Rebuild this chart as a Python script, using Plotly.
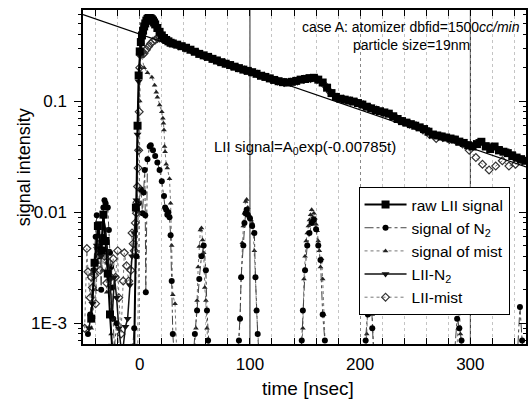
import plotly.graph_objects as go

# ---------------- data ----------------
raw_t = [-44, -41, -38, -35, -33, -31, -29, -27, -25, -20, -10, -5, -3.5, -2, -1,
         0, 1, 2, 3, 4, 5, 6, 7, 8, 9, 10, 11, 12, 13, 14, 16, 18, 20, 22, 24, 26, 28, 30,
         34, 38, 42, 46, 50, 54, 58, 62, 66, 70,
         74, 78, 82, 86, 90, 94, 98, 102, 106, 110,
         114, 118, 122, 126, 130, 134, 138, 142, 146, 150,
         154, 158, 162, 166, 170, 174, 178, 182, 186, 190,
         194, 198, 202, 206, 210, 214, 218, 222, 226, 230,
         234, 238, 242, 246, 250, 254, 258, 262, 266, 270,
         274, 278, 282, 286, 290, 294, 298, 302, 306, 310,
         314, 318, 322, 326, 330, 334, 338, 342, 346, 350]
raw_y = [0.0011, 0.0035, 0.0075, 0.0045, 0.0095, 0.0055, 0.0028, 0.0012, 0.0006, 0.0004, 0.0004, 0.0006, 0.011, 0.06, 0.17,
         0.28, 0.34, 0.39, 0.43, 0.47, 0.50, 0.53, 0.55, 0.56, 0.56, 0.555, 0.545, 0.53, 0.51, 0.49, 0.455, 0.42, 0.39, 0.37, 0.355, 0.345, 0.335, 0.33,
         0.322, 0.312, 0.302, 0.29, 0.278, 0.266, 0.258, 0.25, 0.24, 0.232,
         0.224, 0.217, 0.211, 0.204, 0.198, 0.192, 0.187, 0.182, 0.176, 0.169,
         0.165, 0.16, 0.155, 0.151, 0.148, 0.147, 0.149, 0.152, 0.156, 0.158,
         0.161, 0.162, 0.156, 0.147, 0.132, 0.118, 0.109, 0.105, 0.103, 0.101,
         0.099, 0.096, 0.093, 0.089, 0.086, 0.083, 0.081, 0.079, 0.077, 0.073,
         0.069, 0.066, 0.064, 0.062, 0.06, 0.058, 0.056, 0.053, 0.05, 0.049,
         0.048, 0.047, 0.046, 0.045, 0.043, 0.042, 0.04, 0.039, 0.041, 0.043,
         0.039, 0.037, 0.039, 0.036, 0.035, 0.034, 0.032, 0.031, 0.03, 0.029]

n2_t = [-47, -45, -42, -40, -39, -38, -37, -36, -35, -34,
        -33, -32, -31, -30, -29, -28, -27, -26, -25, -24,
        -23, -21, -18, -8, -5, -3, -1, 1, 2.5, 3.5,
        4.5, 5, 5.5, 7, 9, 10, 12, 14, 16, 18,
        20, 22, 23, 24, 25, 26, 27, 28, 29, 30, 32,
        48, 50, 52, 54, 56, 58, 60, 61, 62, 64,
        88, 90, 91, 92, 94, 95, 96, 97, 98, 100, 102, 104, 105, 106, 107, 109,
        145, 147, 148, 150, 152, 154, 156, 158, 160, 162, 164, 166, 168, 170,
        203, 205, 207, 208, 209, 210, 211, 212, 214,
        284, 286, 288, 290, 292, 294,
        341, 343, 345, 347, 349]
n2_y = [0.0008, 0.0012, 0.003, 0.006, 0.0094, 0.0076, 0.004, 0.0048, 0.002, 0.006,
        0.011, 0.0128, 0.012, 0.011, 0.011, 0.0069, 0.0043, 0.0032, 0.0021, 0.0011,
        0.0006, 0.001, 0.0004, 0.0004, 0.0009, 0.004, 0.012, 0.016, 0.0098, 0.015,
        0.024, 0.0094, 0.0019, 0.03, 0.039, 0.04, 0.036, 0.032, 0.028, 0.024,
        0.019, 0.014, 0.011, 0.0105, 0.0095, 0.01, 0.009, 0.0062, 0.0024, 0.0008, 0.0004,
        0.0004, 0.0008, 0.0013, 0.0025, 0.004, 0.005, 0.003, 0.0013, 0.0007, 0.0004,
        0.0004, 0.0007, 0.0011, 0.0026, 0.005, 0.008, 0.0098, 0.0105, 0.0095, 0.0088, 0.0075, 0.0065, 0.0026, 0.0013, 0.0008, 0.0004,
        0.0004, 0.0007, 0.0013, 0.003, 0.005, 0.0065, 0.008, 0.0085, 0.007, 0.005, 0.0037, 0.0012, 0.0007, 0.0004,
        0.0004, 0.0007, 0.0012, 0.0018, 0.003, 0.0015, 0.0009, 0.0006, 0.0004,
        0.0004, 0.0006, 0.0011, 0.0009, 0.0007, 0.0004,
        0.0004, 0.0006, 0.0014, 0.0007, 0.0004]

mist_t = [-44, -40, -38, -36, -34, -32, -30, -28, -26, -24,
          -2, -1, -0.5, 0, 0.5, 1, 4, 7, 11, 13.5,
          15, 16, 18, 20, 21, 21.5, 22, 22.5, 23, 24,
          25, 27, 28, 29, 30, 32, 34,
          49, 51, 52, 53, 54, 55, 56, 57, 58, 59, 60, 61, 63,
          89, 91, 92, 93, 94, 95, 96, 97, 98, 99, 100, 101, 102, 103, 104, 105, 106, 107, 109,
          146, 148, 149, 150, 151, 152, 153, 154, 155, 156, 157, 158, 159, 160, 161, 162, 163, 164, 165, 166, 167, 169,
          204, 206, 207, 208, 209, 210, 211, 213,
          287, 289, 290, 291, 293]
mist_y = [0.0009, 0.002, 0.0035, 0.006, 0.003, 0.0045, 0.0019, 0.0028, 0.0008, 0.0004,
          0.0004, 0.01, 0.036, 0.1, 0.2, 0.27, 0.2, 0.18, 0.164, 0.139,
          0.12, 0.108, 0.092, 0.08, 0.07, 0.063, 0.055, 0.039, 0.035, 0.027,
          0.025, 0.02, 0.012, 0.005, 0.0018, 0.0015, 0.0004,
          0.0004, 0.0009, 0.0016, 0.0032, 0.0049, 0.0069, 0.0072, 0.0056, 0.0043, 0.0021, 0.0016, 0.0009, 0.0004,
          0.0004, 0.0011, 0.0026, 0.0053, 0.0075, 0.0098, 0.0125, 0.013, 0.011, 0.0095, 0.009, 0.0085, 0.008, 0.0065, 0.0045, 0.0026, 0.0013, 0.0008, 0.0004,
          0.0004, 0.0009, 0.0025, 0.004, 0.0055, 0.0065, 0.0075, 0.0085, 0.0095, 0.0105, 0.009, 0.0098, 0.0088, 0.0078, 0.0068, 0.0055, 0.0045, 0.0032, 0.0038, 0.0025, 0.0012, 0.0004,
          0.0004, 0.0008, 0.0015, 0.0025, 0.004, 0.002, 0.0012, 0.0004,
          0.0004, 0.0009, 0.0016, 0.0008, 0.0004]

liin2_t = [-46, -43, -41, -39, -37, -35, -33, -31, -29, -27,
           -25, -23, -21, -19, -16, -13, -11, -9, -7, -5,
           -3, -2, -1, 0, 1, 2, 3, 4, 5, 6,
           7, 8, 9, 10, 12, 14, 16, 18, 20, 22, 25, 28,
           32, 38, 44, 50, 56, 62, 68, 74, 80, 86,
           92, 98, 104, 110, 116, 122, 128, 134, 140, 146,
           152, 158, 164, 170, 176, 182, 188, 194, 200, 206,
           212, 218, 224, 230, 236, 242, 248, 254, 260, 266,
           272, 278, 284, 290, 296, 302, 308, 314, 320, 326,
           332, 338, 344, 350]
liin2_y = [0.0009, 0.0015, 0.003, 0.005, 0.008, 0.004, 0.009, 0.007, 0.0045, 0.0025,
           0.0011, 0.0026, 0.0017, 0.0009, 0.0005, 0.00093, 0.0011, 0.0022, 0.004, 0.0065,
           0.0128, 0.05, 0.15, 0.26, 0.32, 0.37, 0.41, 0.45, 0.48, 0.50,
           0.52, 0.53, 0.535, 0.53, 0.51, 0.47, 0.44, 0.41, 0.385, 0.365, 0.345, 0.335,
           0.325, 0.318, 0.298, 0.283, 0.262, 0.253, 0.236, 0.228, 0.215, 0.207,
           0.195, 0.19, 0.18, 0.172, 0.164, 0.158, 0.15, 0.15, 0.152, 0.16,
           0.163, 0.165, 0.152, 0.128, 0.112, 0.107, 0.104, 0.1, 0.097, 0.091,
           0.086, 0.083, 0.08, 0.075, 0.069, 0.066, 0.063, 0.059, 0.056, 0.051,
           0.05, 0.048, 0.047, 0.045, 0.042, 0.041, 0.044, 0.041, 0.04, 0.038,
           0.036, 0.034, 0.031, 0.03]

liimist_t = [-50, -48, -47, -45, -44, -43, -41, -40, -38, -36,
             -34, -32, -30, -28, -26, -24, -22, -20, -19, -17,
             -15, -14, -12, -10, -8, -7, -6, -5, -4, -3,
             -2.5, -2, -1.5, -1, -0.5, 0, 0.5, 1, 2, 3,
             4, 6, 8, 10, 12, 14, 16, 18, 20, 22,
             24, 27, 30,
             35, 41, 47, 53, 59, 65, 71, 77, 83, 89,
             95, 101, 107, 113, 119, 125, 131, 137, 143, 149,
             155, 161, 167, 173, 179, 185, 191, 197, 203, 209,
             215, 221, 227, 233, 239, 245, 251, 257, 263, 269,
             275, 281, 287, 293, 299, 305, 311, 317, 323, 329,
             335, 341, 347]
liimist_y = [0.0009, 0.0047, 0.0029, 0.0017, 0.0026, 0.0021, 0.0027, 0.0015, 0.0048, 0.003,
             0.0055, 0.004, 0.0023, 0.0035, 0.0026, 0.0038, 0.0026, 0.0045, 0.0017, 0.0008,
             0.0024, 0.0043, 0.0033, 0.0024, 0.003, 0.0065, 0.0052, 0.0045, 0.008, 0.0098,
             0.0123, 0.017, 0.025, 0.036, 0.08, 0.2, 0.26, 0.28, 0.275, 0.265,
             0.27, 0.29, 0.31, 0.33, 0.345, 0.355, 0.365, 0.37, 0.365, 0.36,
             0.35, 0.34, 0.33,
             0.315, 0.3, 0.285, 0.27, 0.252, 0.242, 0.228, 0.22, 0.208, 0.2,
             0.19, 0.183, 0.174, 0.167, 0.158, 0.152, 0.147, 0.148, 0.152, 0.157,
             0.16, 0.157, 0.142, 0.12, 0.108, 0.104, 0.1, 0.097, 0.092, 0.087,
             0.083, 0.079, 0.076, 0.07, 0.065, 0.062, 0.059, 0.055, 0.05, 0.046,
             0.047, 0.045, 0.044, 0.041, 0.036, 0.031, 0.027, 0.024, 0.026, 0.029,
             0.026, 0.027, 0.029]

# exponential fit line LII = A0*exp(-0.00785 t), end points
fit_t = [-51.5, 350.5]
fit_y = [0.600, 0.0256]

y_major = [0.001, 0.01, 0.1]
y_major_text = ["1E-3", "0.01", "0.1"]
y_minor = [0.0007, 0.0008, 0.0009,
           0.002, 0.003, 0.004, 0.005, 0.006, 0.007, 0.008, 0.009,
           0.02, 0.03, 0.04, 0.05, 0.06, 0.07, 0.08, 0.09,
           0.2, 0.3, 0.4, 0.5, 0.6]

FONT = "Liberation Sans, Arial, sans-serif"

fig = go.Figure()

fig.add_trace(go.Scatter(
    x=mist_t, y=mist_y, name="signal of mist", mode="lines+markers",
    line=dict(color="#777777", width=1, dash="dot"),
    marker=dict(symbol="triangle-up", size=5, color="#222222"),
    legendrank=3))
fig.add_trace(go.Scatter(
    x=n2_t, y=n2_y, name="signal of N<sub>2</sub>", mode="lines+markers",
    line=dict(color="#444444", width=1, dash="dashdot"),
    marker=dict(symbol="circle", size=6, color="#000000"),
    legendrank=2))
fig.add_trace(go.Scatter(
    x=liimist_t, y=liimist_y, name="LII-mist", mode="lines+markers",
    line=dict(color="#777777", width=1, dash="dot"),
    marker=dict(symbol="diamond-open", size=6, color="#333333", line=dict(width=1.2)),
    legendrank=5))
fig.add_trace(go.Scatter(
    x=liin2_t, y=liin2_y, name="LII-N<sub>2</sub>", mode="lines+markers",
    line=dict(color="#111111", width=1.5),
    marker=dict(symbol="triangle-down", size=7, color="#111111"),
    legendrank=4))
fig.add_trace(go.Scatter(
    x=raw_t, y=raw_y, name="raw LII signal", mode="lines+markers",
    line=dict(color="#000000", width=2),
    marker=dict(symbol="square", size=8, color="#000000"),
    legendrank=1))
fig.add_trace(go.Scatter(
    x=fit_t, y=fit_y, mode="lines", showlegend=False, yaxis="y2",
    line=dict(color="#000000", width=1.2)))

for xv in (100, 300):
    fig.add_shape(type="line", xref="x", yref="paper", x0=xv, x1=xv, y0=0, y1=1,
                  line=dict(color="#222222", width=1), layer="below")

fig.update_layout(
    width=530, height=405,
    margin=dict(l=83, r=2, t=10, b=61),
    paper_bgcolor="white", plot_bgcolor="white",
    font=dict(family=FONT, color="black"),
    showlegend=True,
    legend=dict(x=0.622, y=0.47, xanchor="left", yanchor="top",
                bgcolor="white", bordercolor="black", borderwidth=1,
                itemwidth=42,
                font=dict(size=15.5, family=FONT), tracegroupgap=0),
    xaxis=dict(range=[-51.5, 350.5], tick0=0, dtick=100,
               ticks="inside", ticklen=6, tickwidth=1.2, tickcolor="black",
               showline=True, linecolor="black", linewidth=1.5, mirror="allticks",
               tickfont=dict(size=17, family=FONT), ticklabelstandoff=4,
               showgrid=True, gridcolor="#888888", griddash="dot", gridwidth=1,
               zeroline=False,
               minor=dict(tick0=0, dtick=20, ticks="inside", ticklen=3, tickcolor="black",
                          showgrid=True, gridcolor="#c4c4c4", griddash="dot", gridwidth=1)),
    yaxis=dict(type="log", range=[-3.187, -0.18],
               tickmode="array", tickvals=y_major, ticktext=y_major_text,
               ticks="outside", ticklen=7, tickwidth=1.2, tickcolor="black",
               showline=True, linecolor="black", linewidth=1.5, mirror=True,
               tickfont=dict(size=17, family=FONT), ticklabelstandoff=4,
               showgrid=False, zeroline=False,
               minor=dict(tickmode="array", tickvals=y_minor, ticks="outside",
                          ticklen=3, tickcolor="black", showgrid=False)),
    yaxis2=dict(type="log", range=[-3.187, -0.18], overlaying="y", side="right",
                tickmode="array", tickvals=y_major, showticklabels=False,
                ticks="inside", ticklen=7, tickcolor="black",
                showline=False, showgrid=False, zeroline=False,
                minor=dict(tickmode="array", tickvals=y_minor, ticks="inside",
                           ticklen=3, tickcolor="black", showgrid=False)),
)

def px2paper(px, py):
    return (px - 83) / 445.0, (344 - py) / 334.0

annots = [
    ("case A: atomizer dbfid=1500<i>cc/min</i>", 412, 27, "center", 14, 0),
    ("particle size=19nm", 413, 45, "center", 14, 0),
    ("LII signal=A<sub>0</sub>exp(-0.00785t)", 213, 147, "left", 15, 0),
    ("time [nsec]", 309, 389, "center", 19, 0),
    ("signal intensity", 24, 167, "center", 18, -90),
]
for text, px, py, anc, size, ang in annots:
    xp, yp = px2paper(px, py)
    fig.add_annotation(text=text, xref="paper", yref="paper", x=xp, y=yp,
                       xanchor=anc, yanchor="middle", showarrow=False,
                       textangle=ang, font=dict(size=size, family=FONT, color="black"))

fig.write_html("out.html")
